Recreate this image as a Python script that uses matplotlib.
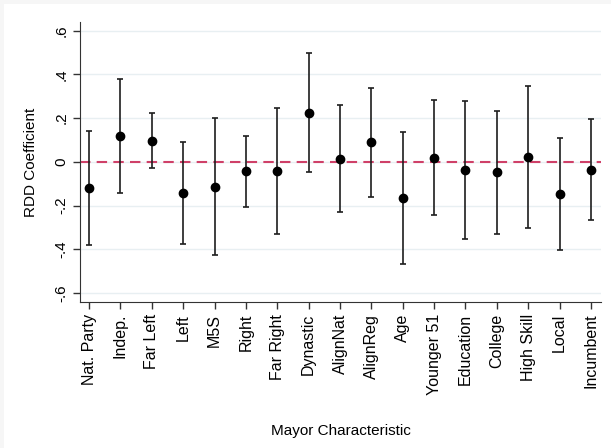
import numpy as np
import matplotlib.pyplot as plt
from matplotlib.patches import Rectangle

plt.rcParams['font.family'] = ['Liberation Sans', 'DejaVu Sans']

labels = ['Nat. Party', 'Indep.', 'Far Left', 'Left', 'M5S', 'Right', 'Far Right',
          'Dynastic', 'AlignNat', 'AlignReg', 'Age', 'Younger 51', 'Education',
          'College', 'High Skill', 'Local', 'Incumbent']
coef = [-0.122, 0.117, 0.096, -0.142, -0.114, -0.044, -0.042, 0.224, 0.015,
        0.089, -0.164, 0.018, -0.038, -0.048, 0.023, -0.148, -0.036]
ci_low = [-0.381, -0.142, -0.027, -0.375, -0.426, -0.207, -0.332, -0.048, -0.228,
          -0.161, -0.467, -0.243, -0.352, -0.330, -0.301, -0.403, -0.268]
ci_high = [0.142, 0.378, 0.221, 0.091, 0.198, 0.119, 0.247, 0.498, 0.260,
           0.337, 0.137, 0.282, 0.276, 0.233, 0.347, 0.108, 0.195]
yticks = [-0.6, -0.4, -0.2, 0, 0.2, 0.4, 0.6]
ytick_labels = ['-.6', '-.4', '-.2', '0', '.2', '.4', '.6']

x = np.arange(1, len(labels) + 1)
coef = np.array(coef)
err = np.vstack([coef - np.array(ci_low), np.array(ci_high) - coef])

fig = plt.figure(figsize=(6.11, 4.48), dpi=100, facecolor='#f6f6f6')
# fondo blanco dentro del marco gris
fig.patches.append(Rectangle((4 / 611, 0), 1, 1 - 4 / 448, transform=fig.transFigure,
                             facecolor='white', edgecolor='none', zorder=-10))
ax = fig.add_axes([80 / 611, (448 - 302) / 448, (601 - 80) / 611, (302 - 22) / 448])
ax.set_facecolor('white')

for yv in yticks:
    ax.axhline(yv, color='#e8eff2', lw=1, zorder=0)
ax.axhline(0, color='#cf4068', lw=1.5, ls=(0, (5, 3)), zorder=1)

ax.errorbar(x, coef, yerr=err, fmt='o', color='black', ecolor='#1e1e1e',
            elinewidth=1.2, capsize=2.3, capthick=1.2, markersize=6, zorder=3)

ax.set_xlim(0.71, 17.32)
ax.set_ylim(-0.641, 0.639)
ax.set_xticks(x)
ax.set_xticklabels(labels, rotation=90, fontsize=11.5)
ax.set_yticks(yticks)
ax.set_yticklabels(ytick_labels, rotation=90, va='center', fontsize=11)

for s in ['top', 'right']:
    ax.spines[s].set_visible(False)
for s in ['left', 'bottom']:
    ax.spines[s].set_color('#333333')
ax.tick_params(direction='out', length=5, color='#333333', width=1)

ax.set_ylabel('RDD Coefficient', fontsize=11, labelpad=12)
ax.set_xlabel('Mayor Characteristic', fontsize=11, labelpad=21)

fig.savefig('out.png', dpi=100, facecolor=fig.get_facecolor())
